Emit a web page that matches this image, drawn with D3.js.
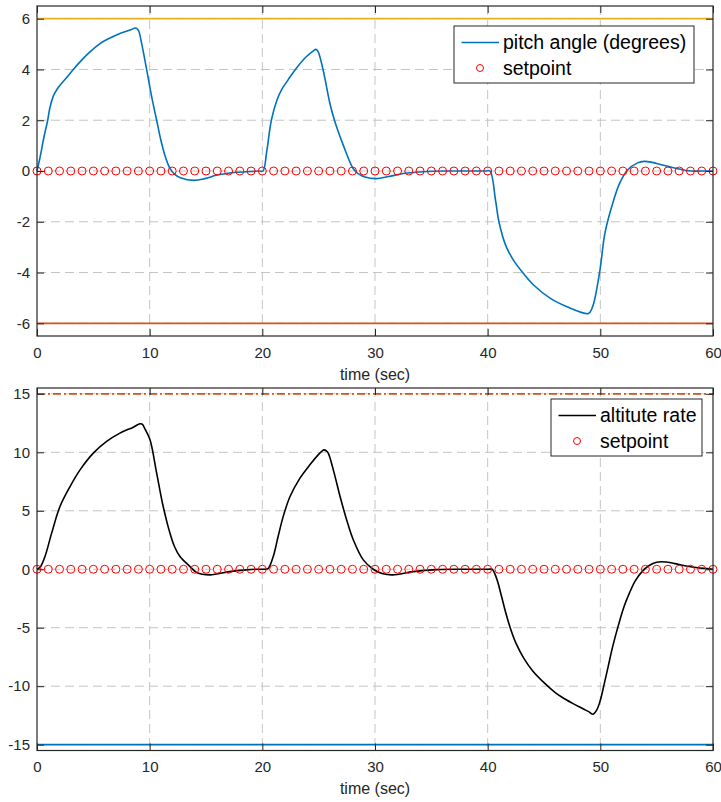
<!DOCTYPE html>
<html>
<head>
<meta charset="utf-8">
<script src="https://cdn.jsdelivr.net/npm/d3@7"></script>
<style>
  html, body { margin: 0; padding: 0; background: #fff; }
  svg { display: block; font-family: "Liberation Sans", Arial, Helvetica, sans-serif; }
</style>
</head>
<body>
<svg id="chart" width="721" height="802"></svg>
<script>
// ---------- data ----------
const timeTicks = [0, 10, 20, 30, 40, 50, 60];
const pitchTicks = [-6, -4, -2, 0, 2, 4, 6];
const rateTicks = [-15, -10, -5, 0, 5, 10, 15];

const pitchTime = [0, 0.3, 0.6, 0.95, 1.15, 1.45, 1.75, 2.04, 2.63, 3.22, 3.82, 4.7, 5.59, 6.48, 7.36, 8.25, 8.76, 8.99, 9.29, 9.73, 10.18, 10.62, 11.0, 11.4, 11.8, 12.2, 12.8, 13.9, 14.9, 15.9, 16.8, 17.7, 19.0, 19.7, 20.05,
  20.4, 20.8, 21.3, 21.7, 22.3, 23.0, 23.9, 24.5, 24.76, 24.95, 25.4, 26.0, 26.4, 27.2, 28.06, 28.5, 29.2, 30.1, 31.2, 32.5, 34.6, 36.5, 38.5, 39.8, 40.2,
  40.7, 41.0, 41.6, 42.3, 43.2, 44.1, 45.6, 47.1, 48.9, 49.1, 49.4, 49.96, 50.4, 51.0, 51.7, 52.4, 53.3, 53.9, 54.6, 55.4, 56.9, 58.0, 59.0, 60];
const pitchAngle = [0, 0.6, 1.3, 2.0, 2.5, 2.95, 3.2, 3.38, 3.68, 4.0, 4.3, 4.69, 5.02, 5.24, 5.42, 5.55, 5.63, 5.55, 5.02, 4.0, 2.92, 2.0, 1.2, 0.55, 0.1, -0.12, -0.28, -0.37, -0.3, -0.17, -0.1, -0.05, -0.02, 0, 0,
  0.8, 2.0, 2.8, 3.2, 3.6, 4.04, 4.5, 4.72, 4.79, 4.7, 3.97, 2.66, 2.0, 1.0, 0.1, -0.1, -0.25, -0.3, -0.22, -0.1, -0.02, 0, 0, 0, 0,
  -1.16, -2.0, -2.93, -3.52, -4.05, -4.5, -5.03, -5.36, -5.62, -5.55, -5.23, -3.92, -2.47, -1.42, -0.5, 0.03, 0.32, 0.38, 0.34, 0.25, 0.09, 0.0, 0, 0];

const rateTime = [0, 0.3, 0.71, 1.3, 2.04, 2.93, 3.82, 5.0, 6.18, 7.36, 8.55, 9.14, 9.35, 9.58, 10.03, 10.62, 11.2, 11.8, 12.2, 12.69, 13.58, 14.17, 15.35, 17.1, 18.6, 19.6, 20.1, 20.5,
  20.97, 21.4, 21.85, 22.45, 23.34, 24.22, 25.1, 25.47, 25.7, 25.85, 26.3, 26.9, 27.48, 28.07, 28.96, 29.84, 30.7, 31.6, 33.4, 35.5, 37.5, 39.5, 40.1, 40.4,
  40.8, 41.2, 41.6, 42.0, 42.5, 43.2, 44.0, 45.0, 46.0, 46.6, 47.5, 48.5, 49.0, 49.36, 49.7, 50.0, 50.3, 50.7, 51.1, 51.6, 52.1, 52.6, 53.1, 53.7, 54.3, 55.0, 55.8, 56.6, 57.5, 58.5, 59.5, 60];
const altitudeRate = [0, 0.2, 1.09, 3.09, 5.37, 7.07, 8.5, 9.93, 10.93, 11.64, 12.15, 12.44, 12.4, 12.0, 11.07, 8.22, 5.37, 3.09, 1.95, 1.09, 0.23, -0.28, -0.48, -0.2, -0.05, 0, 0, 0.05,
  1.09, 2.8, 4.5, 6.2, 7.79, 8.93, 9.93, 10.21, 10.1, 9.93, 8.5, 6.22, 4.23, 2.52, 0.8, 0.0, -0.39, -0.48, -0.2, -0.03, 0, 0, 0, 0,
  -0.8, -2.2, -3.7, -5.0, -6.3, -7.6, -8.7, -9.7, -10.55, -10.95, -11.45, -11.95, -12.2, -12.4, -12.0, -11.2, -10.0, -8.3, -6.6, -4.8, -3.2, -2.0, -1.0, -0.2, 0.3, 0.6, 0.62, 0.48, 0.3, 0.15, 0.05, 0];

const setpointTime = [0,1,2,3,4,5,6,7,8,9,10,11,12,13,14,15,16,17,18,19,20,21,22,23,24,25,26,27,28,29,30,31,32,33,34,35,36,37,38,39,40,41,42,43,44,45,46,47,48,49,50,51,52,53,54,55,56,57,58,59,60];
const setpointValue = [0,0,0,0,0,0,0,0,0,0,0,0,0,0,0,0,0,0,0,0,0,0,0,0,0,0,0,0,0,0,0,0,0,0,0,0,0,0,0,0,0,0,0,0,0,0,0,0,0,0,0,0,0,0,0,0,0,0,0,0,0];

const pitchLimits = [6, -6];
const rateLimits = [15, -15];
const pitchLegend = ["pitch angle (degrees)", "setpoint"];
const rateLegend = ["altitute rate", "setpoint"];
const xLabel = "time (sec)";

// ---------- drawing ----------
const svg = d3.select("#chart");
const AX = "#262626";
const GRID = "#c4c4c4";

function panel(opts) {
  const { top, bottom, yDomain, yTicks, series, sTime, lineColor, limits, legend, labelY } = opts;
  const left = 37, right = 713;
  const x = d3.scaleLinear().domain([0, 60]).range([left, right]);
  const y = d3.scaleLinear().domain(yDomain).range([bottom, top]);
  const g = svg.append("g");

  // grid
  g.append("g").selectAll("line").data(timeTicks.slice(1, -1)).join("line")
    .attr("x1", d => x(d)).attr("x2", d => x(d)).attr("y1", top).attr("y2", bottom)
    .attr("stroke", GRID).attr("stroke-width", 1).attr("stroke-dasharray", "9,5");
  g.append("g").selectAll("line").data(yTicks).join("line")
    .attr("y1", d => y(d)).attr("y2", d => y(d)).attr("x1", left).attr("x2", right)
    .attr("stroke", GRID).attr("stroke-width", 1).attr("stroke-dasharray", "9,5");

  // data line
  const line = d3.line().x((d, i) => x(sTime[i])).y(d => y(d)).curve(d3.curveCatmullRom.alpha(0.5));
  g.append("path").datum(series).attr("d", line)
    .attr("fill", "none").attr("stroke", lineColor).attr("stroke-width", 1.6);

  // setpoint markers
  g.append("g").selectAll("circle").data(setpointTime).join("circle")
    .attr("cx", d => x(d)).attr("cy", (d, i) => y(setpointValue[i])).attr("r", 4)
    .attr("fill", "none").attr("stroke", "#ff0000").attr("stroke-width", 1);

  // limit lines
  limits.forEach(l => {
    g.append("line").attr("x1", left).attr("x2", right).attr("y1", y(l.v)).attr("y2", y(l.v))
      .attr("stroke", l.c).attr("stroke-width", 1.7)
      .attr("stroke-dasharray", l.dash || null);
  });

  // axes (inward ticks)
  const tickFmt = d3.format("d");
  const xAxis = d3.axisBottom(x).tickValues(timeTicks).tickSizeInner(-7).tickSizeOuter(0).tickPadding(11).tickFormat(tickFmt);
  const xAxisTop = d3.axisTop(x).tickValues(timeTicks).tickSizeInner(-7).tickSizeOuter(0).tickFormat("");
  const yAxis = d3.axisLeft(y).tickValues(yTicks).tickSizeInner(-7).tickSizeOuter(0).tickPadding(7).tickFormat(d => d3.format("d")(d).replace("−", "-"));
  const yAxisRight = d3.axisRight(y).tickValues(yTicks).tickSizeInner(-7).tickSizeOuter(0).tickFormat("");

  function style(sel) {
    sel.select(".domain").remove();
    sel.selectAll("line").attr("stroke", AX).attr("stroke-width", 1);
    sel.selectAll("text").attr("fill", AX).style("font-size", "15px")
      .style("font-family", "'Liberation Sans', Arial, Helvetica, sans-serif");
  }
  g.append("g").attr("transform", `translate(0,${bottom})`).call(xAxis).call(style);
  g.append("g").attr("transform", `translate(0,${top})`).call(xAxisTop).call(style);
  g.append("g").attr("transform", `translate(${left},0)`).call(yAxis).call(style);
  g.append("g").attr("transform", `translate(${right},0)`).call(yAxisRight).call(style);

  // box
  g.append("rect").attr("x", left).attr("y", top).attr("width", right - left).attr("height", bottom - top)
    .attr("fill", "none").attr("stroke", AX).attr("stroke-width", 1.2);

  // x label
  g.append("text").attr("x", (left + right) / 2).attr("y", labelY).attr("text-anchor", "middle")
    .attr("fill", AX).style("font-size", "16px").text(xLabel);

  // legend
  const L = opts.legendBox;
  const lg = g.append("g");
  lg.append("rect").attr("x", L.x).attr("y", L.y).attr("width", L.w).attr("height", L.h)
    .attr("fill", "#fff").attr("stroke", AX).attr("stroke-width", 1);
  lg.append("line").attr("x1", L.x + 7.5).attr("x2", L.x + 45).attr("y1", L.y + 16.5).attr("y2", L.y + 16.5)
    .attr("stroke", lineColor).attr("stroke-width", 1.6);
  lg.append("circle").attr("cx", L.x + 26).attr("cy", L.y + 42).attr("r", 3.5)
    .attr("fill", "none").attr("stroke", "#ff0000").attr("stroke-width", 1);
  lg.selectAll("text").data(legend).join("text")
    .attr("x", L.x + 49).attr("y", (d, i) => L.y + 16.5 + i * 25.5 + 6.8)
    .attr("fill", "#000").style("font-size", "19.5px").text(d => d);
}

panel({
  top: 6, bottom: 336, yDomain: [-6.5, 6.5], yTicks: pitchTicks,
  series: pitchAngle, sTime: pitchTime, lineColor: "#0072BD",
  limits: [{ v: pitchLimits[0], c: "#EDB120" }, { v: pitchLimits[1], c: "#D95319" }],
  legend: pitchLegend, labelY: 380,
  legendBox: { x: 454, y: 26, w: 240, h: 57 }
});

panel({
  top: 388, bottom: 750.5, yDomain: [-15.5, 15.5], yTicks: rateTicks,
  series: altitudeRate, sTime: rateTime, lineColor: "#000000",
  limits: [{ v: rateLimits[0], c: "#D95319", dash: "8,3,2,3" }, { v: rateLimits[1], c: "#0072BD" }],
  legend: rateLegend, labelY: 794,
  legendBox: { x: 551, y: 399, w: 151, h: 57 }
});
</script>
</body>
</html>
